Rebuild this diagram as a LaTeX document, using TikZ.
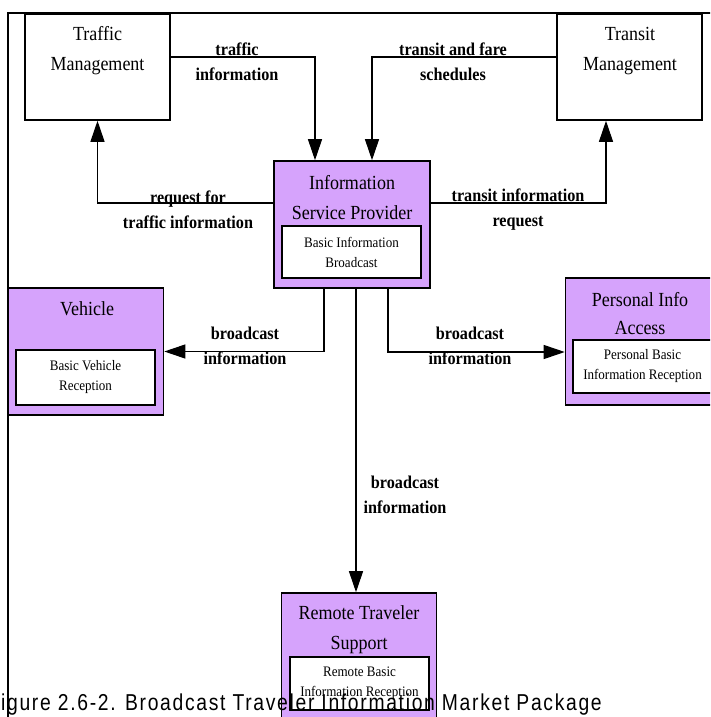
\documentclass[tikz,border=0pt]{standalone}
\usepackage{fontspec}
\setmainfont{Liberation Serif}[FakeStretch=0.9]
\newfontfamily\capfont{Liberation Sans}[FakeStretch=0.84, LetterSpace=7.3]
\usepackage{tikz}
\usetikzlibrary{arrows.meta}
\usepackage{xcolor}
\definecolor{ipurple}{RGB}{214,163,252}

\begin{document}
\begin{tikzpicture}[x=1pt, y=-1pt,
		termbox/.style={draw, line width=1.6pt, fill=white, inner sep=0pt, minimum width=145pt, minimum height=106pt},
		sysbox/.style={draw, line width=1.6pt, fill=ipurple, inner sep=0pt, minimum width=155pt, minimum height=127pt},
		modbox/.style={draw, line width=1.6pt, fill=white, inner sep=0pt, minimum width=139pt, minimum height=53pt, align=center, font=\fontsize{14.5}{20}\selectfont},
		boxtext/.style={align=center, inner sep=0pt, font=\fontsize{20}{30}\selectfont},
		flowlabel/.style={align=center, inner sep=0pt, font=\bfseries\fontsize{18}{25}\selectfont},
		flow/.style={line width=1.1pt, -{Triangle[length=21pt, width=14pt]}}]
			\useasboundingbox (0,0) rectangle (710,717);
			\fill[white] (0,0) rectangle (710,717);
			\clip (0,0) rectangle (710,717);
			\draw[line width=1.3pt] (8,720) -- (8,13) -- (712,13);
			% terminators
			\node[termbox] (tm) at (97.5,67) {};
			\node[boxtext] (tmT) at (97.5,51) {Traffic\\Management};
			\node[termbox] (trm) at (629.5,67) {};
			\node[boxtext] (trmT) at (630,51) {Transit\\Management};
			% subsystems
			\node[sysbox, minimum width=156pt] (isp) at (352,224.5) {};
			\node[boxtext] (ispT) at (352,197.5) {Information\\Service Provider};
			\node[modbox, minimum height=52pt] (ispM) at (351.5,252) {Basic Information\\Broadcast};
			\node[sysbox] (veh) at (86,351.5) {};
			\node[boxtext] (vehT) at (87,309) {Vehicle};
			\node[modbox, minimum height=55pt] (vehM) at (85.5,377.5) {Basic Vehicle\\Reception};
			\node[sysbox] (pia) at (643,341.5) {};
			\node[boxtext, font=\fontsize{20}{28}\selectfont] (piaT) at (640,314) {Personal Info\\Access};
			\node[modbox] (piaM) at (642.5,366.5) {Personal Basic\\Information Reception};
			\node[sysbox] (rts) at (359,656.5) {};
			\node[boxtext] (rtsT) at (359,630) {Remote Traveler\\Support};
			\node[modbox] (rtsM) at (359.5,683.5) {Remote Basic\\Information Reception};
			% flows
			\draw[flow] ([yshift=10pt]tm.east) -| ([xshift=-37pt]isp.north);
			\draw[flow] ([yshift=10pt]trm.west) -| ([xshift=20pt]isp.north);
			\draw[flow] ([yshift=21.5pt]isp.west) -| (tm.south);
			\draw[flow] ([yshift=21.5pt]isp.east) -| ([xshift=-23.5pt]trm.south);
			\draw[flow] ([xshift=-28pt]isp.south) |- (veh.east);
			\draw[flow] ([xshift=36pt]isp.south) |- ([yshift=-10.5pt]pia.west);
			\draw[flow] ([xshift=4pt]isp.south) -- ([xshift=4pt]isp.south |- rts.north);
			\node[flowlabel] (lTraffic) at (237,62) {traffic\\information};
			\node[flowlabel] (lSched) at (453,62) {transit and fare\\schedules};
			\node[flowlabel] (lReq) at (188,210) {request for\\traffic information};
			\node[flowlabel] (lTReq) at (518,210) {transit information\\request};
			\node[flowlabel] (lVeh) at (245,346) {broadcast\\information};
			\node[flowlabel] (lPia) at (470,346) {broadcast\\information};
			\node[flowlabel] (lRts) at (405,495) {broadcast\\information};
			% caption
			\node[anchor=west, inner sep=0pt, font=\capfont\fontsize{23}{26}\selectfont] (cap) at (1,705) {igure 2.6-2. Broadcast Traveler Information Market Package};
		\end{tikzpicture}
\end{document}
